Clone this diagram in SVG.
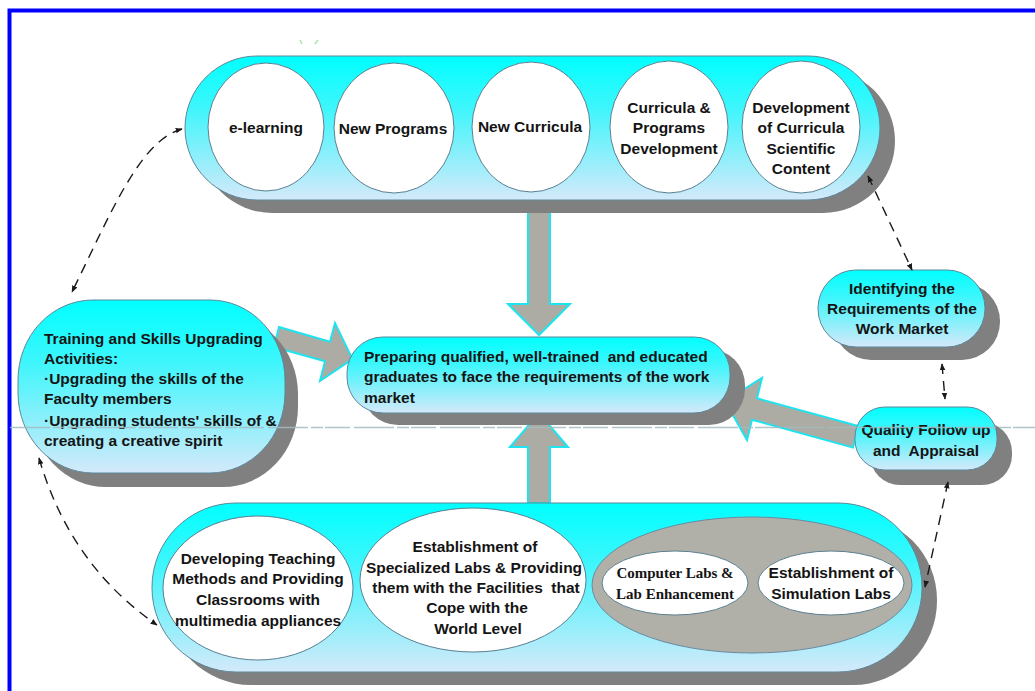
<svg xmlns="http://www.w3.org/2000/svg" width="1035" height="691" viewBox="0 0 1035 691">
<style>
.t{font-family:"Liberation Sans",Arial,sans-serif;font-weight:bold;font-size:15.5px;fill:#141414}
.s{font-family:"Liberation Serif","Times New Roman",serif;font-weight:bold;font-size:15px;fill:#141414;text-anchor:middle}
.c{text-anchor:middle}
.pre{white-space:pre}
.shadow{fill:#808080}
.node{fill:url(#g);stroke:#5a8898;stroke-width:1}
.inner{fill:#ffffff;stroke:#5a7f90;stroke-width:1}
.block{fill:#adaca4;stroke:#1fe3ee;stroke-width:2;stroke-linejoin:miter}
.dash{fill:none;stroke:#1a1a1a;stroke-width:1.4;stroke-dasharray:10 7;marker-start:url(#ah);marker-end:url(#ah)}
</style>
<defs>
<linearGradient id="g" x1="0" y1="0" x2="0" y2="1">
<stop offset="0" stop-color="#00ffff"/>
<stop offset="0.35" stop-color="#3cf6fc"/>
<stop offset="1" stop-color="#d4e9fa"/>
</linearGradient>
<marker id="ah" viewBox="0 0 10 10" refX="9" refY="5" markerWidth="7" markerHeight="7" markerUnits="userSpaceOnUse" orient="auto-start-reverse">
<path d="M0,1 L10,5 L0,9 z" fill="#1a1a1a"/>
</marker>
</defs>
<rect width="1035" height="691" fill="#ffffff"/>
<path d="M9.5,691 V10.5 H1035" fill="none" stroke="#0000ff" stroke-width="4"/>
<path d="M300,40 L302,44 M318,40 L315,44" stroke="#a8e6a8" stroke-width="1.5"/>

<g id="connectors-block">
<polygon class="block" points="528,205 550,205 550,304 570,304 539,335 508,304 528,304"/>
<polygon class="block" points="528,503 550,503 550,447 568,447 539,413 510,447 528,447"/>
<polygon class="block" points="279,327 330,341.8 335,323 352.4,359.1 320,381 325,361.2 274,347"/>
<polygon class="block" points="858,426 757,398.3 762,378 725,401 747,440 752,419.7 853,447.6"/>
</g>

<g id="top-capsule">
<rect class="shadow" x="200" y="69" width="695" height="144" rx="72"/>
<rect class="node" x="185" y="56" width="695" height="144" rx="72"/>
</g>
<g id="e-learning">
<ellipse class="inner" cx="266" cy="127" rx="58" ry="64"/>
<text class="t c" x="266" y="133">e-learning</text>
</g>
<g id="new-programs">
<ellipse class="inner" cx="394" cy="128" rx="60" ry="65"/>
<text class="t c" x="393" y="134">New Programs</text>
</g>
<g id="new-curricula">
<ellipse class="inner" cx="531" cy="127" rx="59" ry="65"/>
<text class="t c" x="530" y="132">New Curricula</text>
</g>
<g id="curricula-programs">
<ellipse class="inner" cx="669" cy="127" rx="59" ry="66"/>
<text class="t c" x="669" y="112.5">Curricula &amp;</text>
<text class="t c" x="669" y="133">Programs</text>
<text class="t c" x="669" y="153.5">Development</text>
</g>
<g id="development-content">
<ellipse class="inner" cx="801" cy="127" rx="59" ry="66"/>
<text class="t c" x="801" y="112.5">Development</text>
<text class="t c" x="801" y="133">of Curricula</text>
<text class="t c" x="801" y="153.5">Scientific</text>
<text class="t c" x="801" y="174">Content</text>
</g>

<g id="center">
<rect class="shadow" x="362" y="349" width="383" height="76" rx="36"/>
<rect class="node" x="347" y="337" width="383" height="76" rx="36"/>
<text class="t pre" x="364" y="361.5">Preparing qualified, well-trained  and educated</text>
<text class="t" x="364" y="382">graduates to face the requirements of the work</text>
<text class="t" x="364" y="402.5">market</text>
</g>

<g id="training">
<rect class="shadow" x="31" y="314" width="267" height="173" rx="75" ry="80"/>
<rect class="node" x="18" y="300" width="267" height="173" rx="75" ry="80"/>
<text class="t" x="44" y="343.5">Training and Skills Upgrading</text>
<text class="t" x="44" y="363.5">Activities:</text>
<text class="t" x="44" y="383.5">·Upgrading the skills of the</text>
<text class="t" x="44" y="403.5">Faculty members</text>
<text class="t" x="44" y="425.5">·Upgrading students' skills of &amp;</text>
<text class="t" x="44" y="445.5">creating a creative spirit</text>
</g>

<g id="identifying">
<rect class="shadow" x="833" y="283" width="167" height="77" rx="38"/>
<rect class="node" x="818" y="270" width="167" height="77" rx="38"/>
<text class="t c" x="902" y="293.5">Identifying the</text>
<text class="t c" x="902" y="313.5">Requirements of the</text>
<text class="t c" x="902" y="333.5">Work Market</text>
</g>

<g id="quality">
<rect class="shadow" x="870" y="422" width="142" height="63" rx="30"/>
<rect class="node" x="855" y="407" width="142" height="63" rx="30"/>
<text class="t c" x="926" y="434.5">Quality Follow up</text>
<text class="t c pre" x="926" y="455.5">and  Appraisal</text>
</g>

<g id="bottom-capsule">
<rect class="shadow" x="167" y="516" width="770" height="169" rx="84"/>
<rect class="node" x="152" y="503" width="770" height="169" rx="84"/>
</g>
<g id="teaching">
<ellipse class="inner" cx="258" cy="588" rx="95" ry="72"/>
<text class="t c" x="258" y="563.5">Developing Teaching</text>
<text class="t c" x="258" y="583.5">Methods and Providing</text>
<text class="t c" x="258" y="604.5">Classrooms with</text>
<text class="t c" x="258" y="625.5">multimedia appliances</text>
</g>
<g id="specialized-labs">
<ellipse class="inner" cx="473" cy="580" rx="113" ry="72"/>
<text class="t c" x="475" y="551.5">Establishment of</text>
<text class="t c" x="474" y="572.5">Specialized Labs &amp; Providing</text>
<text class="t c pre" x="476" y="592.5">them with the Facilities  that</text>
<text class="t c" x="477" y="612.5">Cope with the</text>
<text class="t c" x="478" y="633.5">World Level</text>
</g>
<g id="labs-group">
<ellipse cx="752" cy="585" rx="160" ry="68" fill="#b1b0a8" stroke="#6a8aa0" stroke-width="1"/>
</g>
<g id="computer-labs">
<ellipse class="inner" cx="675" cy="583" rx="73" ry="32"/>
<text class="s" x="675" y="578">Computer Labs &amp;</text>
<text class="s" x="675" y="599">Lab Enhancement</text>
</g>
<g id="simulation-labs">
<ellipse class="inner" cx="831" cy="583" rx="73" ry="32"/>
<text class="t c" x="831" y="578">Establishment of</text>
<text class="t c" x="831" y="599">Simulation Labs</text>
</g>

<g id="connectors">
<path class="dash" d="M182,129 C140,140 110,215 72,292"/>
<path class="dash" d="M39,458 Q70,565 157,625"/>
<path class="dash" d="M868,176 L912,270"/>
<path class="dash" d="M942,364 L945,399"/>
<path class="dash" d="M948,482 L925,587"/>
</g>

<path d="M10,427.5 H1035" stroke="#a3bcc0" stroke-width="1.3" stroke-dasharray="40 3 12 2 25 4" opacity="0.85"/>
</svg>
